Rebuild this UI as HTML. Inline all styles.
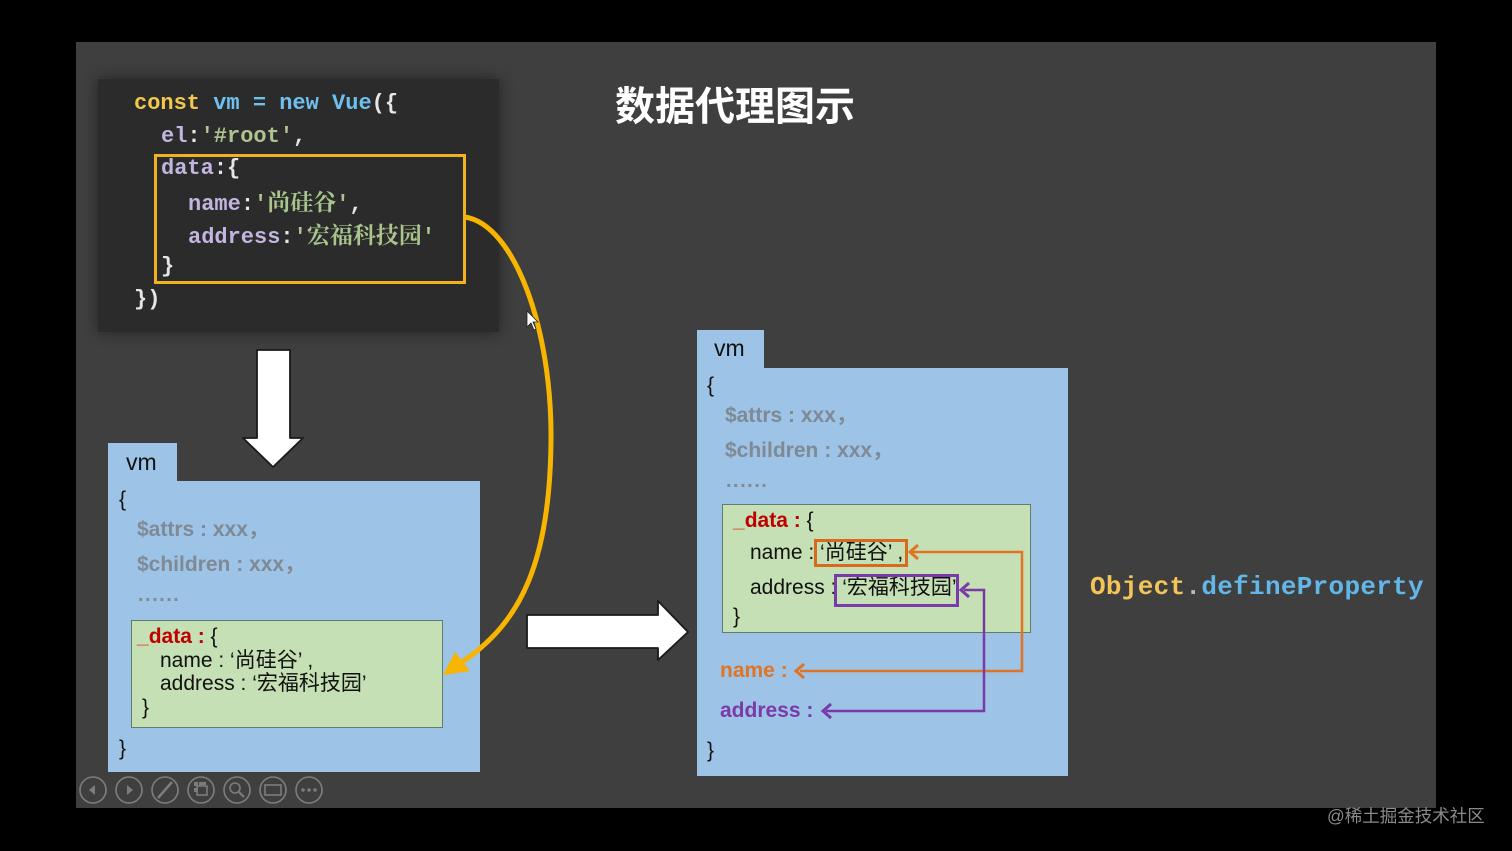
<!DOCTYPE html>
<html><head><meta charset="utf-8">
<style>
html,body{margin:0;padding:0;}
body{width:1512px;height:851px;background:#000;position:relative;overflow:hidden;font-family:"Liberation Sans","Noto Sans CJK SC",sans-serif;}
.slide{position:absolute;left:76px;top:42px;width:1360px;height:766px;background:#3f3f3f;}
.code{position:absolute;left:98px;top:79px;width:401px;height:253px;background:#2b2b2b;box-shadow:0 0 14px rgba(0,0,0,0.45);}
.t{position:absolute;white-space:nowrap;height:30px;line-height:30px;}
.m{font-family:"Liberation Mono","Noto Serif CJK SC",monospace;font-weight:bold;font-size:22px;color:#e6e6e6;height:32px;line-height:32px;}
.cj{font-family:"Noto Serif CJK SC","Liberation Serif",serif;font-weight:bold;font-size:23px;color:#a9c48c;}
.kw{color:#f2c94c}.bl{color:#6fc0ee}.pu{color:#c3b4e0}.gr{color:#aec490}
.blue{position:absolute;background:#9dc3e6;}
.green{position:absolute;background:#c5e0b4;border:1.5px solid #5f7d6a;box-sizing:border-box;}
.s{font-size:21px;color:#111;}
.g{font-size:21px;font-weight:bold;color:#7f8a95;}
.dots{font-size:20px;font-weight:bold;color:#7f8a95;letter-spacing:1.5px;}
.vm{font-size:23px;color:#111;}
.red{color:#c00000;font-weight:bold;}
</style></head><body>
<div class="slide"></div>
<div class="code"></div>

<!-- code text -->
<div class="t m" style="left:134px;top:88px;"><span class="kw">const</span> <span class="bl">vm</span> <span class="bl">=</span> <span class="bl">new</span> <span class="bl">Vue</span>({</div>
<div class="t m" style="left:161px;top:121px;"><span class="pu">el</span>:<span class="gr">'#root'</span>,</div>
<div class="t m" style="left:161px;top:153px;"><span class="pu">data</span>:{</div>
<div class="t m" style="left:188px;top:185px;"><span class="pu">name</span>:<span class="gr">'</span><span class="cj">尚硅谷</span><span class="gr">'</span>,</div>
<div class="t m" style="left:188px;top:218px;"><span class="pu">address</span>:<span class="gr">'</span><span class="cj">宏福科技园</span><span class="gr">'</span></div>
<div class="t m" style="left:161px;top:251px;">}</div>
<div class="t m" style="left:134px;top:284px;">})</div>

<!-- title -->
<div class="t" style="left:615px;top:80px;height:46px;line-height:46px;font-family:'Noto Sans CJK SC',sans-serif;font-weight:bold;font-size:40px;color:#fff;">数据代理图示</div>

<!-- left vm -->
<div class="blue" style="left:108px;top:443px;width:69px;height:40px;"></div>
<div class="blue" style="left:108px;top:481px;width:372px;height:291px;"></div>
<div class="green" style="left:131px;top:620px;width:312px;height:108px;"></div>
<div class="t vm" style="left:126px;top:447px;">vm</div>
<div class="t s" style="left:119px;top:485px;">{</div>
<div class="t g" style="left:137px;top:515px;">$attrs : xxx，</div>
<div class="t g" style="left:137px;top:550px;">$children : xxx，</div>
<div class="t dots" style="left:138px;top:580px;">......</div>
<div class="t s" style="left:137px;top:622px;"><span class="red" style="color:#e04020">_</span><span class="red">data :</span> {</div>
<div class="t s" style="left:160px;top:646px;">name : ‘尚硅谷’ ,</div>
<div class="t s" style="left:160px;top:669px;">address : ‘宏福科技园’</div>
<div class="t s" style="left:142px;top:693px;">}</div>
<div class="t s" style="left:119px;top:734px;">}</div>

<!-- right vm -->
<div class="blue" style="left:697px;top:330px;width:67px;height:40px;"></div>
<div class="blue" style="left:697px;top:368px;width:371px;height:408px;"></div>
<div class="green" style="left:722px;top:504px;width:309px;height:129px;"></div>
<div class="t vm" style="left:714px;top:333px;">vm</div>
<div class="t s" style="left:707px;top:371px;">{</div>
<div class="t g" style="left:725px;top:401px;">$attrs : xxx，</div>
<div class="t g" style="left:725px;top:436px;">$children : xxx，</div>
<div class="t dots" style="left:726px;top:466px;">......</div>
<div class="t s" style="left:733px;top:506px;"><span class="red" style="color:#e04020">_</span><span class="red">data :</span> {</div>
<div class="t s" style="left:750px;top:538px;">name : ‘尚硅谷’ ,</div>
<div class="t s" style="left:750px;top:573px;">address : ‘宏福科技园’</div>
<div class="t s" style="left:733px;top:602px;">}</div>
<div class="t" style="left:720px;top:656px;font-size:21px;font-weight:bold;color:#e07426;">name :</div>
<div class="t" style="left:720px;top:696px;font-size:21px;font-weight:bold;color:#7a3aa8;">address :</div>
<div class="t s" style="left:707px;top:736px;">}</div>

<!-- Object.defineProperty -->
<div class="t" style="left:1090px;top:572px;font-family:'Liberation Mono',monospace;font-weight:bold;font-size:26px;letter-spacing:0.3px;"><span style="color:#f2c45a">Object</span><span style="color:#bbb">.</span><span style="color:#62b6e8">defineProperty</span></div>

<!-- watermark -->
<div class="t" style="left:1327px;top:801px;font-size:17.5px;color:#8a8a8a;font-family:'Liberation Sans','Noto Sans CJK SC',sans-serif;">@稀土掘金技术社区</div>

<svg width="1512" height="851" style="position:absolute;left:0;top:0;" xmlns="http://www.w3.org/2000/svg">
  <!-- yellow box in code -->
  <rect x="155.5" y="155.5" width="309" height="127" fill="none" stroke="#f2b21e" stroke-width="3"/>
  <!-- yellow curve -->
  <path d="M465,217 C515,225 552,330 551,440 C550,560 522,622 462,662" fill="none" stroke="#f7b500" stroke-width="5"/>
  <polygon points="443,675 455,652 470,671" fill="#f7b500"/>
  <!-- cursor -->
  <polygon points="527,311 527,327 531,323 534,330 536,329 533,322 538,322" fill="#fff" stroke="#222" stroke-width="0.8"/>
  <!-- down arrow -->
  <polygon points="257,350 290,350 290,438 303,438 273,467 243,438 257,438" fill="#fff" stroke="#1a1a1a" stroke-width="1.8" stroke-linejoin="round"/>
  <!-- right arrow -->
  <polygon points="527,615 658,615 658,601 688,632 658,660 658,648 527,648" fill="#fff" stroke="#1a1a1a" stroke-width="1.8" stroke-linejoin="round"/>
  <!-- orange box and connector -->
  <rect x="815.5" y="540.5" width="91" height="25" fill="none" stroke="#d8691f" stroke-width="3"/>
  <polyline points="912,552 1022,552 1022,671 800,671" fill="none" stroke="#e07426" stroke-width="2.5"/>
  <polyline points="918,545 910,552 918,559" fill="none" stroke="#e07426" stroke-width="3"/>
  <polyline points="804,664 796,671 804,678" fill="none" stroke="#e07426" stroke-width="3"/>
  <!-- purple box and connector -->
  <rect x="835.5" y="575.5" width="122" height="30" fill="none" stroke="#7a3aa8" stroke-width="3"/>
  <polyline points="964,590 984,590 984,711 826,711" fill="none" stroke="#7a3aa8" stroke-width="2.5"/>
  <polyline points="969,583 961,590 969,597" fill="none" stroke="#7a3aa8" stroke-width="3"/>
  <polyline points="831,704 823,711 831,718" fill="none" stroke="#7a3aa8" stroke-width="3"/>
  <!-- toolbar -->
  <g fill="none" stroke="#7d7d7d" stroke-width="1.6">
    <circle cx="93" cy="790" r="13"/>
    <circle cx="129" cy="790" r="13"/>
    <circle cx="165" cy="790" r="13"/>
    <circle cx="201" cy="790" r="13"/>
    <circle cx="237" cy="790" r="13"/>
    <circle cx="273" cy="790" r="13"/>
    <circle cx="309" cy="790" r="13"/>
    <line x1="158" y1="798" x2="172" y2="782" stroke-width="2.5"/>
    <rect x="197" y="786" width="10" height="9"/>
    <circle cx="235" cy="788" r="5"/>
    <line x1="239" y1="792" x2="244" y2="797" stroke-width="2.2"/>
    <rect x="265" y="785" width="16" height="10"/>
  </g>
  <g fill="#7d7d7d">
    <polygon points="89,790 95,785 95,795"/>
    <polygon points="133,790 127,785 127,795"/>
    <rect x="194" y="782" width="4" height="4"/><rect x="194" y="788" width="4" height="4"/><rect x="199" y="782" width="7" height="3"/>
    <circle cx="303" cy="790" r="1.8"/><circle cx="309" cy="790" r="1.8"/><circle cx="315" cy="790" r="1.8"/>
  </g>
</svg>
</body></html>
